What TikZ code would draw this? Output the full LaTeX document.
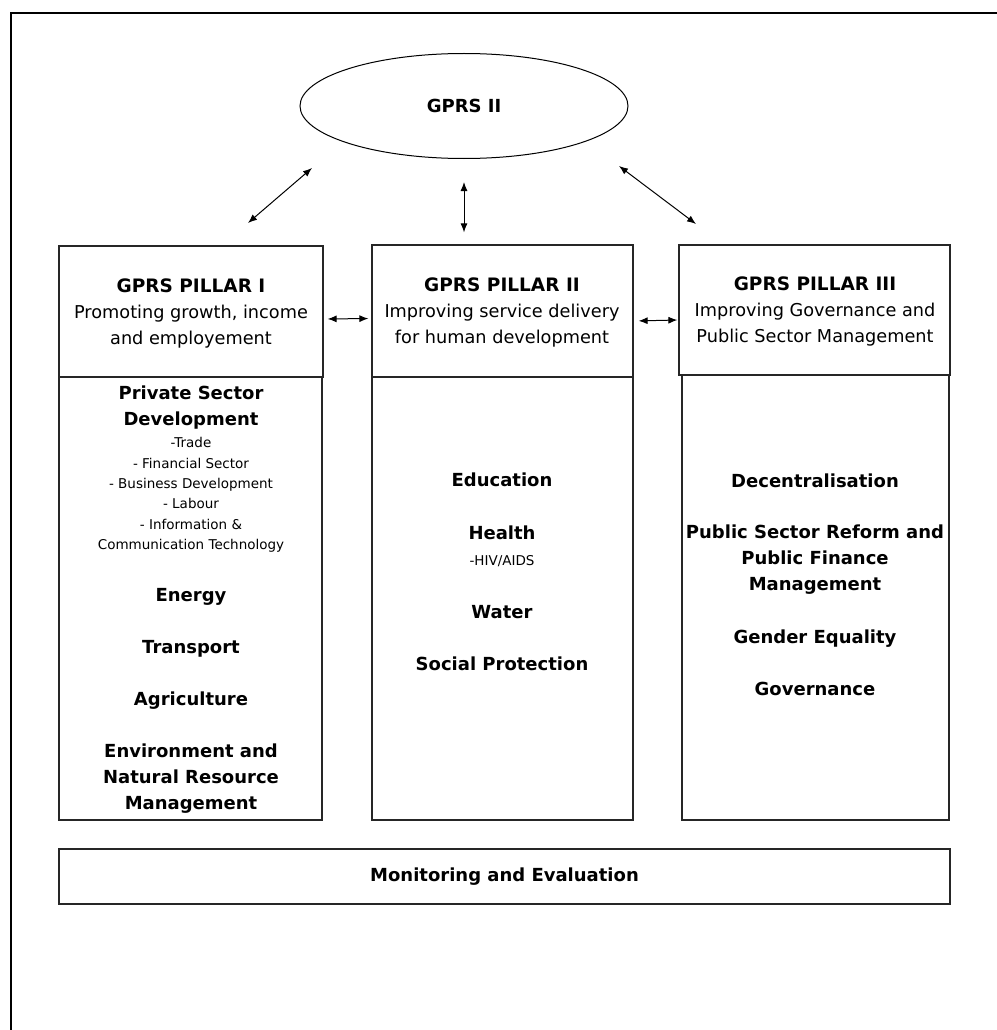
\documentclass[tikz,border=0pt]{standalone}
\usepackage{fontspec}
\setmainfont{DejaVu Sans}
\usepackage{tikz}
\usetikzlibrary{shapes.geometric,arrows.meta}

\begin{document}
\begin{tikzpicture}
			[x=1pt,y=1pt,line cap=round,
			%Styles
			frame line/.style={line width=2pt},
			box/.style={rectangle,draw=black!85,line width=1.2pt,inner sep=0pt},
			oval/.style={ellipse,draw,line width=1pt,inner sep=0pt},
			link/.style={{Latex[length=9pt,width=7pt]}-{Latex[length=9pt,width=7pt]},line width=1pt},
			head text/.style={anchor=base,align=center,inner sep=0pt,font=\fontsize{17.7}{26}\selectfont},
			item/.style={anchor=base,align=center,inner sep=0pt,font=\fontsize{18}{26}\selectfont\bfseries},
			sub item/.style={anchor=base,align=center,inner sep=0pt,font=\fontsize{13.5}{20.4}\selectfont}
			]
			\useasboundingbox (0,0) rectangle (996,-1030);
			
			%Outer frame
			\draw[frame line] (11,-1032) -- (11,-13) -- (998,-13);
			
			%The graphic
			\node[oval,minimum width=328pt,minimum height=105pt] (gprs) at (464,-106) {\bfseries\fontsize{18}{22}\selectfont GPRS II};
			
			\node[box,minimum width=264pt,minimum height=131pt] (hdrI) at (191,-311.5) {};
			\node[box,minimum width=261pt,minimum height=132pt] (hdrII) at (502.5,-311) {};
			\node[box,minimum width=271pt,minimum height=130pt] (hdrIII) at (814.5,-310) {};
			
			%(base = last line)
			\node[head text] (hdrItext) at (191,-344.7)
				{{\fontsize{18.5}{26}\selectfont\bfseries GPRS PILLAR I}\\Promoting growth, income\\and employement};
			\node[head text] (hdrIItext) at (502,-343.5)
				{{\fontsize{18.5}{26}\selectfont\bfseries GPRS PILLAR II}\\Improving service delivery\\for human development};
			\node[head text] (hdrIIItext) at (815,-342.7)
				{{\fontsize{18.5}{26}\selectfont\bfseries GPRS PILLAR III}\\Improving Governance and\\Public Sector Management};
			
			\node[box,minimum width=263pt,minimum height=443pt] (colI) at (190.5,-598.5) {};
			\node[box,minimum width=261pt,minimum height=443pt] (colII) at (502.5,-598.5) {};
			\node[box,minimum width=267pt,minimum height=445pt] (colIII) at (815.5,-597.5) {};
			
			\node[box,minimum width=891pt,minimum height=55pt,font=\fontsize{18}{22}\selectfont\bfseries] (me) at (504.5,-876.5) {Monitoring and Evaluation};
			
			%Pillar I
			\node[item] (psd) at (191,-425.7) {Private Sector\\Development};
			\node[sub item] (psdList) at (191,-549.7) {-Trade\\- Financial Sector\\- Business Development\\- Labour\\- Information \&\\Communication Technology};
			\node[item] (energy) at (191,-601.5) {Energy};
			\node[item] (transport) at (191,-653.5) {Transport};
			\node[item] (agri) at (191,-705.5) {Agriculture};
			\node[item] (enr) at (191,-809) {Environment and\\Natural Resource\\Management};
			
			%Pillar II
			\node[item] (edu) at (502,-486.7) {Education};
			\node[item] (health) at (502,-539) {Health};
			\node[sub item] (hiv) at (502,-565) {-HIV/AIDS};
			\node[item] (water) at (502,-618.3) {Water};
			\node[item] (social) at (502,-670.5) {Social Protection};
			
			%Pillar III
			\node[item] (decent) at (815,-487) {Decentralisation};
			\node[item] (psr) at (815,-590.5) {Public Sector Reform and\\Public Finance\\Management};
			\node[item] (gender) at (815,-643) {Gender Equality};
			\node[item] (gov) at (815,-695) {Governance};
			
			%Arrows
			\coordinate (lt1) at (312,-168);
			\coordinate (lt2) at (248,-223);
			\coordinate (rt1) at (619,-166);
			\coordinate (rt2) at (696,-224);
			\draw[link] (lt1) -- (lt2);
			\draw[link] (rt1) -- (rt2);
			\draw[link,shorten <=23pt,shorten >=12pt] (gprs.south) -- (gprs.south |- hdrII.north);
			\draw[link,shorten <=4pt,shorten >=3pt] ([yshift=-7.5pt]hdrI.east) -- ([yshift=-7.5pt]hdrII.west);
			\draw[link,shorten <=5pt,shorten >=1pt] ([yshift=-10pt]hdrII.east) -- ([yshift=-10pt]hdrIII.west);
		\end{tikzpicture}
\end{document}
